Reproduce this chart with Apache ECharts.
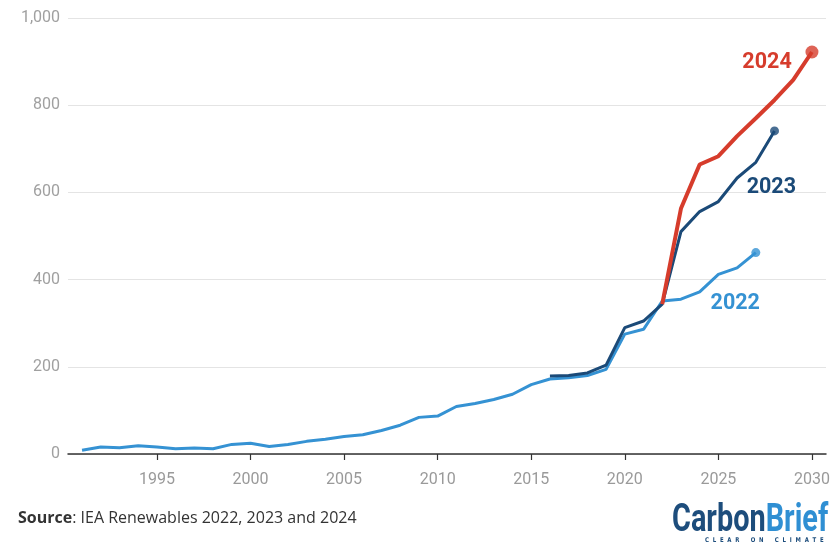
<!DOCTYPE html>
<html>
<head>
<meta charset="utf-8">
<script src="https://cdn.jsdelivr.net/npm/echarts@6/dist/echarts.min.js"></script>
<style>
  html, body { margin: 0; padding: 0; background: #ffffff; }
  #chart { width: 833px; height: 548px; }
</style>
</head>
<body>
<div id="chart"></div>
<script>
// Renewables 2022 report: history 1991-2021 plus forecast to 2027
const years2022 = [1991, 1992, 1993, 1994, 1995, 1996, 1997, 1998, 1999, 2000,
  2001, 2002, 2003, 2004, 2005, 2006, 2007, 2008, 2009, 2010,
  2011, 2012, 2013, 2014, 2015, 2016, 2017, 2018, 2019, 2020,
  2021, 2022, 2023, 2024, 2025, 2026, 2027];
const values2022 = [8.5, 16, 14.5, 19, 16, 12, 14, 12, 22, 24.5,
  17, 22, 29, 34, 40, 44, 54, 66, 84, 87,
  109, 116, 125, 137, 159, 172, 175, 180, 194, 275,
  286, 351, 355, 372, 412, 427, 462];

// Renewables 2023 report
const years2023 = [2016, 2017, 2018, 2019, 2020, 2021, 2022, 2023, 2024, 2025, 2026, 2027, 2028];
const values2023 = [179, 180, 186, 204, 290, 305, 344, 510, 556, 579, 633, 669, 741];

// Renewables 2024 report
const years2024 = [2022, 2023, 2024, 2025, 2026, 2027, 2028, 2029, 2030];
const values2024 = [344, 563, 664, 683, 729, 770, 812, 858, 922];

// Axis ticks
const xTicks = [1995, 2000, 2005, 2010, 2015, 2020, 2025, 2030];

// Series names, shown next to the lines
const seriesNames = ['2022', '2023', '2024'];
const labelAnchors = [[2025.9, 346], [2027.83, 611], [2027.6, 898]];

const colors = ['#3592d3', '#1b4a78', '#d63c2c'];

const pairs = (xs, ys) => xs.map((x, i) => [x, ys[i]]);
const last = (xs, ys) => [[xs[xs.length - 1], ys[ys.length - 1]]];

function nameLabel(i) {
  return {
    symbol: 'circle',
    symbolSize: 1,
    silent: true,
    itemStyle: { color: 'rgba(0,0,0,0)' },
    label: {
      show: true,
      position: 'inside',
      formatter: seriesNames[i],
      color: colors[i],
      fontFamily: 'Roboto',
      fontWeight: 'bold',
      fontSize: 21.5
    },
    data: [{ coord: labelAnchors[i] }]
  };
}

const chart = echarts.init(document.getElementById('chart'), null, { renderer: 'canvas' });

chart.setOption({
  backgroundColor: '#ffffff',
  animation: false,
  grid: { left: 68, right: 7, top: 18, bottom: 94, containLabel: false },
  xAxis: {
    type: 'value',
    min: 1990.25,
    max: 2030.75,
    axisLine: { show: true, lineStyle: { color: '#333333', width: 1.5 } },
    axisTick: { show: true, customValues: xTicks, length: 6, lineStyle: { color: '#333333', width: 1.2 } },
    axisLabel: {
      customValues: xTicks,
      color: '#9a9a9a',
      fontFamily: 'Roboto',
      fontSize: 16,
      margin: 18,
      formatter: v => String(v)
    },
    splitLine: { show: false }
  },
  yAxis: {
    type: 'value',
    min: 0,
    max: 1000,
    interval: 200,
    axisLine: { show: false },
    axisTick: { show: false },
    axisLabel: {
      color: '#a0a0a0',
      fontFamily: 'Roboto',
      fontSize: 16,
      margin: 8,
      formatter: v => v.toLocaleString('en-US')
    },
    splitLine: { lineStyle: { color: '#e4e4e4', width: 1 } }
  },
  series: [
    {
      name: seriesNames[0], type: 'line', data: pairs(years2022, values2022),
      symbol: 'none', lineStyle: { color: colors[0], width: 3 }, z: 2,
      markPoint: nameLabel(0)
    },
    {
      name: seriesNames[1], type: 'line', data: pairs(years2023, values2023),
      symbol: 'none', lineStyle: { color: colors[1], width: 3 }, z: 3,
      markPoint: nameLabel(1)
    },
    {
      name: seriesNames[2], type: 'line', data: pairs(years2024, values2024),
      symbol: 'none', lineStyle: { color: colors[2], width: 4 }, z: 4,
      markPoint: nameLabel(2)
    },
    { type: 'scatter', data: last(years2022, values2022), symbolSize: 9, itemStyle: { color: colors[0] }, z: 5 },
    { type: 'scatter', data: last(years2023, values2023), symbolSize: 9, itemStyle: { color: colors[1] }, z: 5 },
    { type: 'scatter', data: last(years2024, values2024), symbolSize: 13, itemStyle: { color: colors[2] }, z: 5 }
  ],
  graphic: [
    {
      type: 'text', left: 18, top: 510,
      style: {
        text: '{b|Source}: IEA Renewables 2022, 2023 and 2024',
        fontFamily: 'Open Sans', fontSize: 16, fill: '#333333',
        rich: { b: { fontFamily: 'Open Sans', fontWeight: 'bold', fontSize: 16, fill: '#333333' } }
      }
    },
    {
      type: 'text', x: 672, y: 502, scaleX: 0.76,
      style: {
        text: '{c|Carbon}{r|Brief}',
        rich: {
          c: { fontFamily: 'Roboto', fontWeight: 'bold', fontSize: 38, fill: '#1d4d7c' },
          r: { fontFamily: 'Roboto', fontWeight: 'bold', fontSize: 38, fill: '#2f8fd3' }
        }
      }
    },
    {
      type: 'text', x: 705, y: 537, scaleX: 0.83,
      style: {
        text: 'C  L  E  A  R      O  N      C  L  I  M  A  T  E',
        fontFamily: 'DejaVu Sans', fontWeight: 'bold', fontSize: 6.5, fill: '#1d4d7c'
      }
    }
  ]
});
</script>
</body>
</html>
